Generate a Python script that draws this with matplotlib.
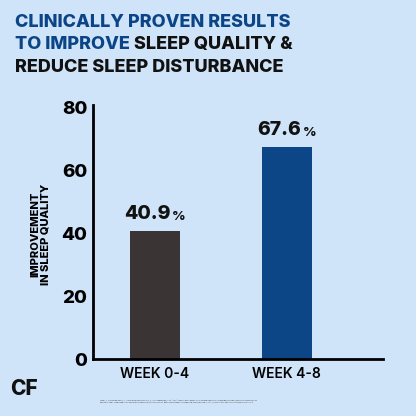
import matplotlib.pyplot as plt
import numpy as np

categories = ["WEEK 0-4", "WEEK 4-8"]
values = [40.9, 67.6]
yTicks = [0, 20, 40, 60, 80]

bgColor = "#cfe4f8"
barColors = ["#3a3534", "#0d4687"]
titleBlue = "#0b4587"
fontName = ["Inter", "DejaVu Sans"]

fig = plt.figure(figsize=(4.16, 4.16), dpi=100, facecolor=bgColor)
ax = fig.add_axes([0.2236, 0.137, 0.697, 0.611])
ax.set_facecolor(bgColor)

x = np.arange(len(categories))
ax.bar(x, values, width=0.38, color=barColors)
ax.set_xlim(-0.47, 1.73)
ax.set_ylim(0, 81)

fig.canvas.draw()
renderer = fig.canvas.get_renderer()
for xi, v in zip(x, values):
    num = ax.text(xi - 0.055, v + 2.5, f"{v:.1f}", ha="center", va="bottom",
                  fontsize=14, fontweight="heavy", family=fontName, color="#111111")
    bb = num.get_window_extent(renderer)
    xr = ax.transData.inverted().transform((bb.x1 + 1, bb.y0))[0]
    ax.text(xr, v + 2.5, "%", ha="left", va="bottom",
            fontsize=9.5, fontweight="heavy", family=fontName, color="#111111")

ax.set_xticks(x)
ax.set_xticklabels(categories, fontsize=10, fontweight="semibold", family=fontName)
ax.set_yticks(yTicks)
ax.set_yticklabels([str(t) for t in yTicks], fontsize=13.5, fontweight="heavy", family=fontName)
ax.tick_params(length=0, pad=4)
ax.tick_params(axis="x", pad=6)

for side in ["top", "right"]:
    ax.spines[side].set_visible(False)
ax.spines["left"].set_linewidth(2)
ax.spines["bottom"].set_linewidth(2)

ax.set_ylabel("IMPROVEMENT\nIN SLEEP QUALITY", fontsize=8, fontweight="heavy",
              family=fontName, linespacing=1.05)
ax.yaxis.set_label_coords(-0.145, 0.49)

# title
titleSize = 13
fig.text(0.036, 0.947, "CLINICALLY PROVEN RESULTS", color=titleBlue, fontsize=titleSize,
         fontweight="heavy", family=fontName, va="center")
t2 = fig.text(0.036, 0.892, "TO IMPROVE ", color=titleBlue, fontsize=titleSize,
              fontweight="heavy", family=fontName, va="center")
fig.canvas.draw()
bb = t2.get_window_extent()
fig.text(bb.x1 / fig.bbox.width, 0.892, "SLEEP QUALITY &", color="#111111", fontsize=titleSize,
         fontweight="heavy", family=fontName, va="center")
fig.text(0.036, 0.837, "REDUCE SLEEP DISTURBANCE", color="#111111", fontsize=titleSize,
         fontweight="heavy", family=fontName, va="center")

# logo
fig.text(0.025, 0.064, "CF", fontsize=15, fontweight="heavy", family=fontName,
         color="#111111", va="center")

# footnote
fig.text(0.24, 0.034,
         "AMIRI, A., ROSHE BIDGOHLI, A., ANANGHARAND ROSHOLD, A., & HASHEMZADE, Y. M. (2021). THERAPEUTIC EFFECTS OF MAGNESIUM AND VITAMIN B6 IN ALLEVIATING THE SYMPTOMS OF\n"
         "RESTLESS LEGS SYNDROME: A RANDOMIZED CONTROLLED CLINICAL TRIAL. BMC COMPLEMENTARY MEDICINE AND THERAPIES, 21(1), 1. HTTPS://DOI.ORG/10.1186/S12906-020-03814-8",
         fontsize=1.25, family=fontName, color="#333333", va="center")

fig.savefig("out.png", dpi=100, facecolor=bgColor)
